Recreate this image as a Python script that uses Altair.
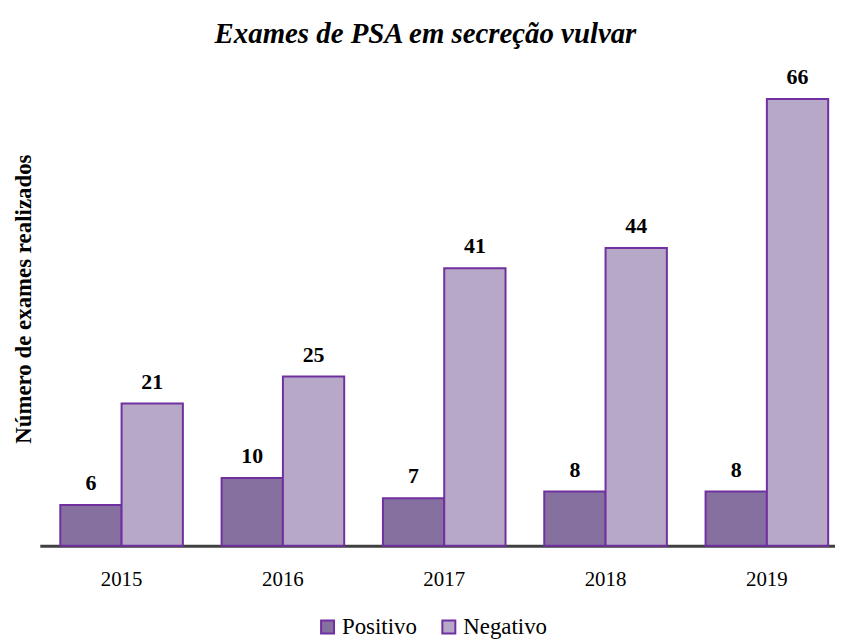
import altair as alt
import pandas as pd

years = ["2015", "2016", "2017", "2018", "2019"]
positivo = [6, 10, 7, 8, 8]
negativo = [21, 25, 41, 44, 66]
series = ["Positivo", "Negativo"]
colors = ["#86709F", "#B6A8C6"]

rows = []
for i, y in enumerate(years):
    rows.append({"year": y, "serie": "Positivo", "value": positivo[i]})
    rows.append({"year": y, "serie": "Negativo", "value": negativo[i]})
df = pd.DataFrame(rows)

FONT = "Liberation Serif"

x = alt.X("year:N", title=None,
          scale=alt.Scale(paddingInner=0.24, paddingOuter=0.0846, align=0.75),
          axis=alt.Axis(labelAngle=0, labelFont=FONT, labelFontSize=21, labelColor="#000000",
                        labelPadding=23, ticks=False, domainColor="#404040", domainWidth=3,
                        grid=False))
y = alt.Y("value:Q", scale=alt.Scale(domain=[0, 73], nice=False),
          title="Número de exames realizados",
          axis=alt.Axis(labels=False, ticks=False, domain=False, grid=False,
                        titleFont=FONT, titleFontSize=23, titleFontWeight="bold",
                        titleColor="#000000", titlePadding=4))
xo = alt.XOffset("serie:N", sort=series, scale=alt.Scale(paddingInner=0, paddingOuter=0))

base = alt.Chart(df)

bars = base.mark_bar(stroke="#7030A0", strokeWidth=2).encode(
    x=x, y=y, xOffset=xo,
    color=alt.Color("serie:N", sort=series,
                    scale=alt.Scale(domain=series, range=colors),
                    legend=alt.Legend(title=None, orient="none", direction="horizontal",
                                      legendX=278, legendY=567,
                                      symbolType="square", symbolSize=170,
                                      symbolStrokeColor="#7030A0", symbolStrokeWidth=2,
                                      labelFont=FONT, labelFontSize=23, labelColor="#000000",
                                      columnPadding=20, labelOffset=3)),
)

labels = base.mark_text(font=FONT, fontSize=22, fontWeight="bold", baseline="bottom",
                        dy=-10, color="#000000").encode(
    x=x, y=y, xOffset=xo, text="value:Q")

chart = (bars + labels).properties(
    width=800, height=497,
    background="#FFFFFF",
    title=alt.TitleParams("Exames de PSA em secreção vulvar", font=FONT, fontSize=29,
                          fontStyle="italic", fontWeight="bold", color="#000000",
                          offset=3, dx=-12),
    padding={"left": 5, "top": 10, "right": 0, "bottom": 0},
).configure_view(strokeWidth=0, stroke="transparent")

chart.save("out.html", embed_options={"renderer": "svg", "actions": False})
